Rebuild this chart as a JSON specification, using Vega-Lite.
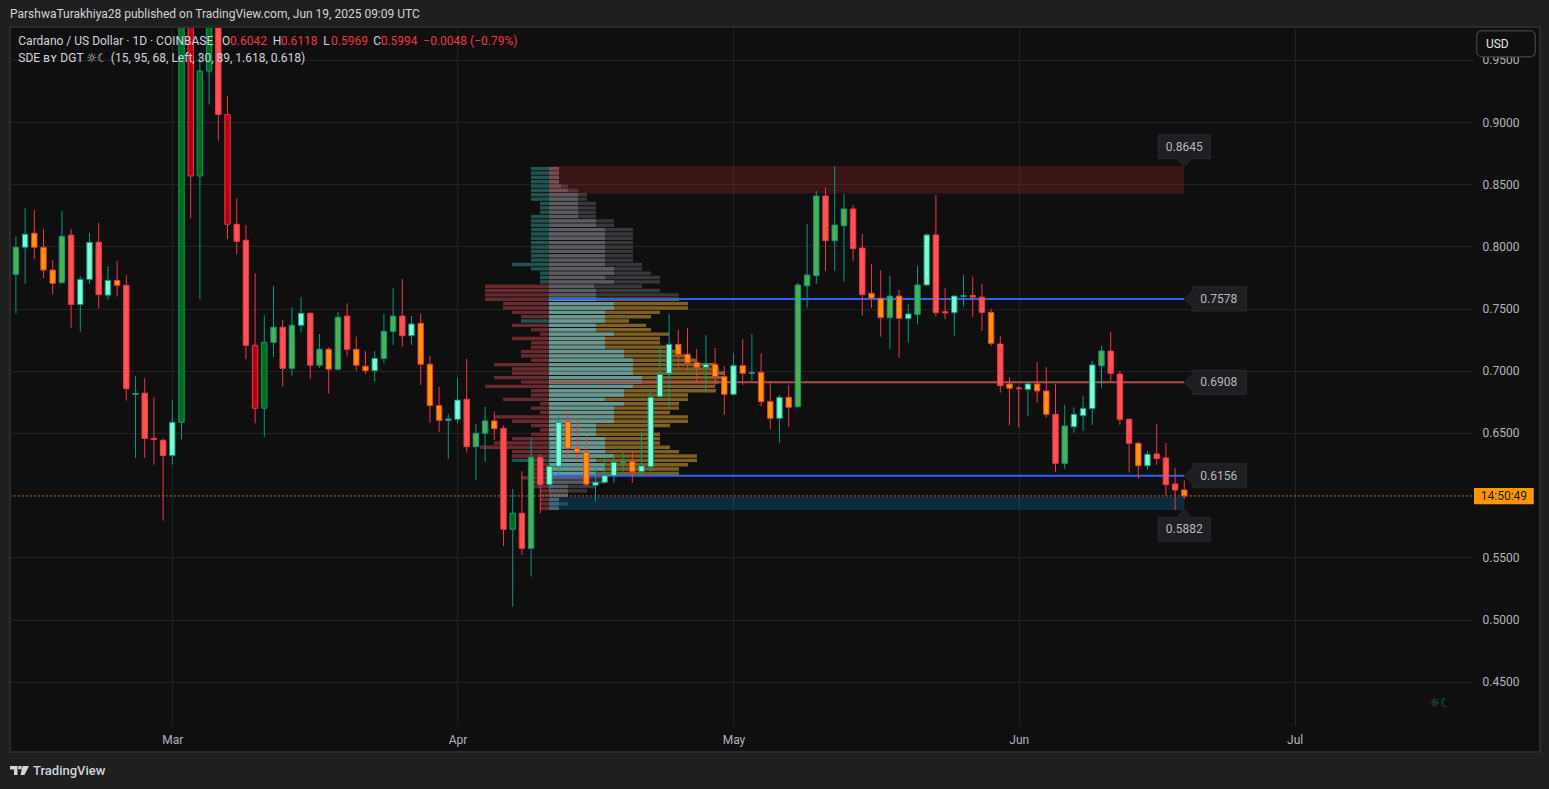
{
"$schema": "https://vega.github.io/schema/vega-lite/v6.json",
"width": 1462, "height": 698,
"autosize": {"type": "none"},
"padding": {"left": 10, "top": 27, "right": 77, "bottom": 64},
"background": "#0f0f0f",
"config": {"view": {"stroke": null}, "font": "Roboto, 'DejaVu Sans', sans-serif", "text": {"font": "Roboto, 'DejaVu Sans', sans-serif"}, "scale": {"continuousPadding": 0}},
"datasets": {
"candles": [
{"t":"2025-02-12","o":0.7776,"h":0.808,"l":0.746,"c":0.7993,"k":"g"},
{"t":"2025-02-13","o":0.7993,"h":0.8306,"l":0.770,"c":0.8098,"k":"m"},
{"t":"2025-02-14","o":0.8106,"h":0.8293,"l":0.790,"c":0.7993,"k":"o"},
{"t":"2025-02-15","o":0.7993,"h":0.814,"l":0.7746,"c":0.781,"k":"o"},
{"t":"2025-02-16","o":0.781,"h":0.789,"l":0.7617,"c":0.7703,"k":"o"},
{"t":"2025-02-17","o":0.7708,"h":0.8285,"l":0.770,"c":0.8081,"k":"g"},
{"t":"2025-02-18","o":0.809,"h":0.814,"l":0.7347,"c":0.7532,"k":"r"},
{"t":"2025-02-19","o":0.7532,"h":0.776,"l":0.7315,"c":0.7735,"k":"m"},
{"t":"2025-02-20","o":0.7735,"h":0.8108,"l":0.7698,"c":0.8033,"k":"m"},
{"t":"2025-02-21","o":0.8033,"h":0.8188,"l":0.75,"c":0.7612,"k":"r"},
{"t":"2025-02-22","o":0.7608,"h":0.7842,"l":0.7572,"c":0.7727,"k":"m"},
{"t":"2025-02-23","o":0.7727,"h":0.7883,"l":0.7596,"c":0.7687,"k":"o"},
{"t":"2025-02-24","o":0.7687,"h":0.7768,"l":0.676,"c":0.6856,"k":"r"},
{"t":"2025-02-25","o":0.681,"h":0.6958,"l":0.630,"c":0.6818,"k":"m"},
{"t":"2025-02-26","o":0.682,"h":0.694,"l":0.630,"c":0.6457,"k":"r"},
{"t":"2025-02-27","o":0.6457,"h":0.679,"l":0.6245,"c":0.6447,"k":"r"},
{"t":"2025-02-28","o":0.6441,"h":0.6455,"l":0.5795,"c":0.6318,"k":"r"},
{"t":"2025-03-01","o":0.6318,"h":0.6765,"l":0.6245,"c":0.6586,"k":"m"},
{"t":"2025-03-02","o":0.6586,"h":1.02,"l":0.645,"c":1.00,"k":"dg"},
{"t":"2025-03-03","o":1.00,"h":1.03,"l":0.8224,"c":0.8566,"k":"dr"},
{"t":"2025-03-04","o":0.8566,"h":0.956,"l":0.7575,"c":0.941,"k":"dg"},
{"t":"2025-03-05","o":0.941,"h":1.0,"l":0.9139,"c":0.985,"k":"dg"},
{"t":"2025-03-06","o":0.982,"h":0.995,"l":0.885,"c":0.906,"k":"r"},
{"t":"2025-03-07","o":0.906,"h":0.921,"l":0.806,"c":0.8178,"k":"dr"},
{"t":"2025-03-08","o":0.8178,"h":0.8387,"l":0.7937,"c":0.8041,"k":"r"},
{"t":"2025-03-09","o":0.805,"h":0.817,"l":0.7093,"c":0.7205,"k":"r"},
{"t":"2025-03-10","o":0.7205,"h":0.7784,"l":0.6578,"c":0.6699,"k":"dr"},
{"t":"2025-03-11","o":0.6699,"h":0.7446,"l":0.647,"c":0.7229,"k":"dg"},
{"t":"2025-03-12","o":0.7229,"h":0.7682,"l":0.7114,"c":0.735,"k":"g"},
{"t":"2025-03-13","o":0.735,"h":0.7408,"l":0.6872,"c":0.702,"k":"r"},
{"t":"2025-03-14","o":0.702,"h":0.751,"l":0.696,"c":0.7366,"k":"g"},
{"t":"2025-03-15","o":0.7366,"h":0.7593,"l":0.7307,"c":0.7462,"k":"m"},
{"t":"2025-03-16","o":0.7462,"h":0.747,"l":0.6937,"c":0.7045,"k":"r"},
{"t":"2025-03-17","o":0.7045,"h":0.7296,"l":0.7025,"c":0.7173,"k":"g"},
{"t":"2025-03-18","o":0.7173,"h":0.719,"l":0.6817,"c":0.7013,"k":"o"},
{"t":"2025-03-19","o":0.7013,"h":0.7473,"l":0.7005,"c":0.743,"k":"g"},
{"t":"2025-03-20","o":0.744,"h":0.7543,"l":0.7114,"c":0.7173,"k":"r"},
{"t":"2025-03-21","o":0.7173,"h":0.7275,"l":0.7001,"c":0.7045,"k":"o"},
{"t":"2025-03-22","o":0.7037,"h":0.7159,"l":0.6972,"c":0.7001,"k":"o"},
{"t":"2025-03-23","o":0.7001,"h":0.7159,"l":0.6913,"c":0.710,"k":"m"},
{"t":"2025-03-24","o":0.71,"h":0.7457,"l":0.706,"c":0.7317,"k":"g"},
{"t":"2025-03-25","o":0.7317,"h":0.7663,"l":0.7207,"c":0.744,"k":"g"},
{"t":"2025-03-26","o":0.744,"h":0.7738,"l":0.7194,"c":0.7282,"k":"r"},
{"t":"2025-03-27","o":0.7282,"h":0.744,"l":0.7207,"c":0.7376,"k":"m"},
{"t":"2025-03-28","o":0.7382,"h":0.7457,"l":0.6886,"c":0.7053,"k":"o"},
{"t":"2025-03-29","o":0.7053,"h":0.7119,"l":0.6583,"c":0.672,"k":"o"},
{"t":"2025-03-30","o":0.672,"h":0.6872,"l":0.6508,"c":0.6602,"k":"o"},
{"t":"2025-03-31","o":0.6602,"h":0.6653,"l":0.6291,"c":0.6612,"k":"m"},
{"t":"2025-04-01","o":0.661,"h":0.6945,"l":0.6578,"c":0.6765,"k":"m"},
{"t":"2025-04-02","o":0.6771,"h":0.7095,"l":0.6342,"c":0.639,"k":"r"},
{"t":"2025-04-03","o":0.639,"h":0.6572,"l":0.6122,"c":0.6498,"k":"g"},
{"t":"2025-04-04","o":0.6498,"h":0.6712,"l":0.6269,"c":0.6597,"k":"g"},
{"t":"2025-04-05","o":0.6597,"h":0.6671,"l":0.6444,"c":0.6535,"k":"o"},
{"t":"2025-04-06","o":0.6538,"h":0.656,"l":0.5592,"c":0.5726,"k":"r"},
{"t":"2025-04-07","o":0.5726,"h":0.605,"l":0.5104,"c":0.5855,"k":"dg"},
{"t":"2025-04-08","o":0.5855,"h":0.6195,"l":0.5519,"c":0.5573,"k":"r"},
{"t":"2025-04-09","o":0.5573,"h":0.6457,"l":0.5345,"c":0.6305,"k":"g"},
{"t":"2025-04-10","o":0.6305,"h":0.6331,"l":0.5855,"c":0.6085,"k":"r"},
{"t":"2025-04-11","o":0.6085,"h":0.6444,"l":0.6042,"c":0.6232,"k":"m"},
{"t":"2025-04-12","o":0.6232,"h":0.6663,"l":0.617,"c":0.6586,"k":"m"},
{"t":"2025-04-13","o":0.6591,"h":0.6685,"l":0.6291,"c":0.6377,"k":"o"},
{"t":"2025-04-14","o":0.6377,"h":0.661,"l":0.6277,"c":0.6342,"k":"o"},
{"t":"2025-04-15","o":0.6345,"h":0.6484,"l":0.6069,"c":0.6088,"k":"o"},
{"t":"2025-04-16","o":0.608,"h":0.6237,"l":0.5948,"c":0.6104,"k":"m"},
{"t":"2025-04-17","o":0.6104,"h":0.6297,"l":0.6095,"c":0.6157,"k":"m"},
{"t":"2025-04-18","o":0.6157,"h":0.6315,"l":0.61,"c":0.6264,"k":"m"},
{"t":"2025-04-19","o":0.6264,"h":0.635,"l":0.6189,"c":0.6267,"k":"m"},
{"t":"2025-04-20","o":0.6269,"h":0.635,"l":0.61,"c":0.6189,"k":"o"},
{"t":"2025-04-21","o":0.6189,"h":0.651,"l":0.6162,"c":0.6235,"k":"m"},
{"t":"2025-04-22","o":0.6229,"h":0.6846,"l":0.6189,"c":0.6787,"k":"m"},
{"t":"2025-04-23","o":0.6792,"h":0.7189,"l":0.678,"c":0.6972,"k":"m"},
{"t":"2025-04-24","o":0.698,"h":0.7457,"l":0.6707,"c":0.7213,"k":"m"},
{"t":"2025-04-25","o":0.7213,"h":0.7328,"l":0.702,"c":0.7133,"k":"o"},
{"t":"2025-04-26","o":0.7133,"h":0.7342,"l":0.7001,"c":0.7065,"k":"o"},
{"t":"2025-04-27","o":0.7065,"h":0.7175,"l":0.692,"c":0.7028,"k":"o"},
{"t":"2025-04-28","o":0.7028,"h":0.7288,"l":0.6824,"c":0.7052,"k":"m"},
{"t":"2025-04-29","o":0.7052,"h":0.7181,"l":0.6886,"c":0.6953,"k":"o"},
{"t":"2025-04-30","o":0.6953,"h":0.7039,"l":0.6645,"c":0.6811,"k":"o"},
{"t":"2025-05-01","o":0.6811,"h":0.7141,"l":0.680,"c":0.7041,"k":"m"},
{"t":"2025-05-02","o":0.7041,"h":0.7256,"l":0.6886,"c":0.698,"k":"o"},
{"t":"2025-05-03","o":0.698,"h":0.7296,"l":0.692,"c":0.6986,"k":"m"},
{"t":"2025-05-04","o":0.6988,"h":0.7141,"l":0.6717,"c":0.6752,"k":"o"},
{"t":"2025-05-05","o":0.6752,"h":0.6918,"l":0.6532,"c":0.6618,"k":"o"},
{"t":"2025-05-06","o":0.6618,"h":0.6805,"l":0.6422,"c":0.6787,"k":"m"},
{"t":"2025-05-07","o":0.6787,"h":0.6886,"l":0.6551,"c":0.6707,"k":"o"},
{"t":"2025-05-08","o":0.6712,"h":0.7708,"l":0.6696,"c":0.769,"k":"g"},
{"t":"2025-05-09","o":0.7684,"h":0.818,"l":0.7507,"c":0.777,"k":"g"},
{"t":"2025-05-10","o":0.7765,"h":0.8445,"l":0.7698,"c":0.8405,"k":"g"},
{"t":"2025-05-11","o":0.8405,"h":0.8472,"l":0.7805,"c":0.8046,"k":"r"},
{"t":"2025-05-12","o":0.8046,"h":0.8646,"l":0.7805,"c":0.8172,"k":"g"},
{"t":"2025-05-13","o":0.8166,"h":0.8421,"l":0.7716,"c":0.8301,"k":"g"},
{"t":"2025-05-14","o":0.8301,"h":0.8333,"l":0.7885,"c":0.7982,"k":"r"},
{"t":"2025-05-15","o":0.7987,"h":0.81,"l":0.7443,"c":0.7612,"k":"r"},
{"t":"2025-05-16","o":0.7623,"h":0.7859,"l":0.7507,"c":0.7583,"k":"o"},
{"t":"2025-05-17","o":0.7583,"h":0.781,"l":0.7274,"c":0.7427,"k":"o"},
{"t":"2025-05-18","o":0.7427,"h":0.7762,"l":0.7175,"c":0.7601,"k":"g"},
{"t":"2025-05-19","o":0.7601,"h":0.765,"l":0.7105,"c":0.7422,"k":"o"},
{"t":"2025-05-20","o":0.7419,"h":0.7537,"l":0.7226,"c":0.7457,"k":"m"},
{"t":"2025-05-21","o":0.7454,"h":0.7842,"l":0.7374,"c":0.769,"k":"g"},
{"t":"2025-05-22","o":0.769,"h":0.8105,"l":0.768,"c":0.8092,"k":"m"},
{"t":"2025-05-23","o":0.8092,"h":0.8413,"l":0.7435,"c":0.7467,"k":"r"},
{"t":"2025-05-24","o":0.7475,"h":0.7668,"l":0.7414,"c":0.7465,"k":"r"},
{"t":"2025-05-25","o":0.7467,"h":0.7605,"l":0.7282,"c":0.7601,"k":"m"},
{"t":"2025-05-26","o":0.7598,"h":0.777,"l":0.7516,"c":0.7604,"k":"m"},
{"t":"2025-05-27","o":0.7605,"h":0.7757,"l":0.7435,"c":0.7592,"k":"r"},
{"t":"2025-05-28","o":0.7592,"h":0.770,"l":0.7323,"c":0.747,"k":"r"},
{"t":"2025-05-29","o":0.747,"h":0.75,"l":0.72,"c":0.7221,"k":"o"},
{"t":"2025-05-30","o":0.7215,"h":0.728,"l":0.6824,"c":0.688,"k":"r"},
{"t":"2025-05-31","o":0.6894,"h":0.6948,"l":0.6564,"c":0.6859,"k":"o"},
{"t":"2025-06-01","o":0.6862,"h":0.6878,"l":0.6543,"c":0.6856,"k":"r"},
{"t":"2025-06-02","o":0.6851,"h":0.6918,"l":0.6637,"c":0.6894,"k":"m"},
{"t":"2025-06-03","o":0.6894,"h":0.7071,"l":0.6744,"c":0.6838,"k":"o"},
{"t":"2025-06-04","o":0.6838,"h":0.703,"l":0.6623,"c":0.665,"k":"o"},
{"t":"2025-06-05","o":0.665,"h":0.6894,"l":0.6189,"c":0.6256,"k":"r"},
{"t":"2025-06-06","o":0.6256,"h":0.6725,"l":0.6211,"c":0.6556,"k":"g"},
{"t":"2025-06-07","o":0.655,"h":0.6707,"l":0.6503,"c":0.665,"k":"m"},
{"t":"2025-06-08","o":0.6639,"h":0.6797,"l":0.6519,"c":0.6698,"k":"m"},
{"t":"2025-06-09","o":0.6696,"h":0.7079,"l":0.6564,"c":0.7047,"k":"m"},
{"t":"2025-06-10","o":0.7041,"h":0.72,"l":0.6864,"c":0.7159,"k":"g"},
{"t":"2025-06-11","o":0.7159,"h":0.7312,"l":0.6912,"c":0.698,"k":"r"},
{"t":"2025-06-12","o":0.6974,"h":0.6998,"l":0.6564,"c":0.661,"k":"r"},
{"t":"2025-06-13","o":0.661,"h":0.6615,"l":0.6181,"c":0.6417,"k":"r"},
{"t":"2025-06-14","o":0.6417,"h":0.643,"l":0.6133,"c":0.6237,"k":"o"},
{"t":"2025-06-15","o":0.6237,"h":0.6355,"l":0.6203,"c":0.6329,"k":"m"},
{"t":"2025-06-16","o":0.6331,"h":0.6572,"l":0.6243,"c":0.6294,"k":"r"},
{"t":"2025-06-17","o":0.6299,"h":0.6417,"l":0.5994,"c":0.6085,"k":"r"},
{"t":"2025-06-18","o":0.609,"h":0.6219,"l":0.5881,"c":0.6042,"k":"r"},
{"t":"2025-06-19","o":0.6042,"h":0.6118,"l":0.5969,"c":0.5994,"k":"o"}
],
"vp": [
{"p":0.8625,"L":-18,"lk":"t","a":10,"b":10},
{"p":0.8590,"L":-18,"lk":"t","a":10,"b":10},
{"p":0.8555,"L":-18,"lk":"t","a":10,"b":10},
{"p":0.8520,"L":-18,"lk":"t","a":10,"b":10},
{"p":0.8485,"L":-18,"lk":"t","a":12,"b":19},
{"p":0.8450,"L":-18,"lk":"t","a":19,"b":29},
{"p":0.8415,"L":-18,"lk":"t","a":29,"b":38},
{"p":0.8380,"L":-18,"lk":"t","a":29,"b":38},
{"p":0.8345,"L":-9,"lk":"t","a":29,"b":47},
{"p":0.8310,"L":-9,"lk":"t","a":29,"b":47},
{"p":0.8275,"L":-9,"lk":"t","a":29,"b":47},
{"p":0.8240,"L":-18,"lk":"t","a":29,"b":47},
{"p":0.8205,"L":-18,"lk":"t","a":47,"b":65},
{"p":0.8170,"L":-18,"lk":"t","a":47,"b":65},
{"p":0.8135,"L":-18,"lk":"t","a":56,"b":84},
{"p":0.8100,"L":-18,"lk":"t","a":56,"b":84},
{"p":0.8065,"L":-18,"lk":"t","a":56,"b":84},
{"p":0.8030,"L":-18,"lk":"t","a":56,"b":84},
{"p":0.7995,"L":-18,"lk":"t","a":56,"b":84},
{"p":0.7960,"L":-18,"lk":"t","a":56,"b":84},
{"p":0.7925,"L":-18,"lk":"t","a":56,"b":84},
{"p":0.7890,"L":-18,"lk":"t","a":56,"b":84},
{"p":0.7855,"L":-37,"lk":"t","a":56,"b":93},
{"p":0.7820,"L":-18,"lk":"t","a":65,"b":93},
{"p":0.7785,"L":-9,"lk":"t","a":65,"b":102},
{"p":0.7750,"L":-9,"lk":"t","a":56,"b":111},
{"p":0.7715,"L":-9,"lk":"t","a":65,"b":111},
{"p":0.7680,"L":-64,"lk":"r","a":45,"b":93},
{"p":0.7645,"L":-64,"lk":"r","a":47,"b":111},
{"p":0.7610,"L":-64,"lk":"r","a":47,"b":130},
{"p":0.7575,"L":-64,"lk":"r","a":47,"b":130},
{"p":0.7540,"L":-46,"lk":"r","a":65,"b":139},
{"p":0.7505,"L":-46,"lk":"r","a":65,"b":139},
{"p":0.7470,"L":-37,"lk":"r","a":56,"b":111},
{"p":0.7435,"L":-28,"lk":"r","a":56,"b":102},
{"p":0.7400,"L":-28,"lk":"t","a":56,"b":80},
{"p":0.7365,"L":-37,"lk":"r","a":47,"b":97},
{"p":0.7330,"L":-18,"lk":"r","a":47,"b":102},
{"p":0.7295,"L":-9,"lk":"r","a":65,"b":120},
{"p":0.7260,"L":-37,"lk":"r","a":56,"b":111},
{"p":0.7225,"L":-18,"lk":"r","a":56,"b":111},
{"p":0.7190,"L":-18,"lk":"r","a":56,"b":120},
{"p":0.7155,"L":-28,"lk":"r","a":75,"b":130},
{"p":0.7120,"L":-28,"lk":"r","a":75,"b":139},
{"p":0.7085,"L":-18,"lk":"r","a":84,"b":148},
{"p":0.7050,"L":-55,"lk":"r","a":84,"b":166},
{"p":0.7015,"L":-37,"lk":"r","a":84,"b":170},
{"p":0.6980,"L":-37,"lk":"r","a":84,"b":176},
{"p":0.6945,"L":-55,"lk":"r","a":93,"b":176},
{"p":0.6910,"L":-28,"lk":"r","a":93,"b":170},
{"p":0.6875,"L":-64,"lk":"r","a":84,"b":166},
{"p":0.6840,"L":-18,"lk":"r","a":75,"b":167},
{"p":0.6805,"L":-18,"lk":"r","a":75,"b":139},
{"p":0.6770,"L":-46,"lk":"r","a":56,"b":139},
{"p":0.6735,"L":-9,"lk":"r","a":75,"b":130},
{"p":0.6700,"L":-18,"lk":"r","a":65,"b":130},
{"p":0.6665,"L":-9,"lk":"r","a":65,"b":121},
{"p":0.6630,"L":-55,"lk":"r","a":65,"b":139},
{"p":0.6595,"L":-37,"lk":"r","a":65,"b":139},
{"p":0.6560,"L":-18,"lk":"r","a":47,"b":121},
{"p":0.6525,"L":-9,"lk":"r","a":47,"b":102},
{"p":0.6490,"L":-18,"lk":"r","a":47,"b":111},
{"p":0.6455,"L":-37,"lk":"r","a":56,"b":111},
{"p":0.6420,"L":-55,"lk":"r","a":56,"b":111},
{"p":0.6385,"L":-69,"lk":"r","a":56,"b":121},
{"p":0.6350,"L":-37,"lk":"r","a":56,"b":130},
{"p":0.6315,"L":-37,"lk":"r","a":65,"b":148},
{"p":0.6280,"L":-37,"lk":"t","a":47,"b":148},
{"p":0.6245,"L":-18,"lk":"r","a":56,"b":139},
{"p":0.6210,"L":-18,"lk":"r","a":56,"b":130},
{"p":0.6175,"L":-18,"lk":"r","a":47,"b":130},
{"p":0.6140,"L":-28,"lk":"r","a":38,"b":56},
{"p":0.6105,"L":-18,"lk":"r","a":38,"b":56},
{"p":0.6070,"L":-18,"lk":"r","a":19,"b":47},
{"p":0.6035,"L":-9,"lk":"r","a":19,"b":38},
{"p":0.6000,"L":-9,"lk":"r","a":19,"b":19},
{"p":0.5965,"L":-9,"lk":"r","a":10,"b":10},
{"p":0.5930,"L":-9,"lk":"r","a":10,"b":19},
{"p":0.5895,"L":-9,"lk":"r","a":10,"b":10}
],
"levels": [
{"p":0.8645,"k":"top","d0":"2025-04-11","d1":"2025-06-19"},
{"p":0.7578,"k":"b","d0":"2025-04-11","d1":"2025-06-19"},
{"p":0.6908,"k":"r","d0":"2025-04-11","d1":"2025-06-19"},
{"p":0.6156,"k":"b","d0":"2025-04-11","d1":"2025-06-19"},
{"p":0.5882,"k":"bot","d0":"2025-04-11","d1":"2025-06-19"}
],
"zones": [
{"lo":0.8423,"hi":0.8645,"k":"s","d0":"2025-04-11","d1":"2025-06-19"},
{"lo":0.5882,"hi":0.5988,"k":"d","d0":"2025-04-11","d1":"2025-06-19"}
],
"frame": [
{"k":"outer","t0":"2025-02-08T02:21:00Z","t1":"2025-07-30T22:10:00Z","y0":1.00048,"y1":0.36945},
{"k":"pane","t0":"2025-02-11T08:37:00Z","t1":"2025-07-27T15:55:00Z","y0":0.97637,"y1":0.39357}
],
"boxes": [
{"k":"usd","t0":"2025-07-20T18:47:00Z","t1":"2025-07-27T03:36:00Z","y0":0.97339,"y1":0.95249},
{"k":"cd","t0":"2025-07-20T11:45:00Z","t1":"2025-07-26T23:32:00Z","y0":0.6058,"y1":0.59269}
],
"last": [
{"p":0.5994,"t0":"2025-02-11T08:37:00Z","t1":"2025-07-20T06:31:00Z"}
],
"texts": [
{"t":"2025-02-11T08:37:00Z","p":0.98682,"s":"ParshwaTurakhiya28 published on TradingView.com, Jun 19, 2025 09:09 UTC","k":"w"},
{"t":"2025-02-12T06:16:00Z","p":0.96511,"s":"Cardano / US Dollar · 1D · COINBASE","k":"w"},
{"t":"2025-03-06T09:39:00Z","p":0.96511,"s":"O","k":"w"},
{"t":"2025-03-07T06:32:00Z","p":0.96511,"s":"0.6042","k":"r"},
{"t":"2025-03-11T21:55:00Z","p":0.96511,"s":"H","k":"w"},
{"t":"2025-03-12T18:47:00Z","p":0.96511,"s":"0.6118","k":"r"},
{"t":"2025-03-17T09:55:00Z","p":0.96511,"s":"L","k":"w"},
{"t":"2025-03-18T06:00:00Z","p":0.96511,"s":"0.5969","k":"r"},
{"t":"2025-03-22T20:21:00Z","p":0.96511,"s":"C","k":"w"},
{"t":"2025-03-23T15:39:00Z","p":0.96511,"s":"0.5994","k":"r"},
{"t":"2025-03-28T06:47:00Z","p":0.96511,"s":"−0.0048 (−0.79%)","k":"r"},
{"t":"2025-02-12T06:16:00Z","p":0.95145,"s":"SDE ʙʏ DGT ☼☾ (15, 95, 68, Left, 30, 89, 1.618, 0.618)","k":"w"},
{"t":"2025-07-21T18:45:00Z","p":0.96294,"s":"USD","k":"u"}
],
"misc": [
{"k":"foot","t":"2025-02-13T20:38:00Z","p":0.3783,"s":"TradingView"},
{"k":"logo","t":"2025-02-12T09:23:00Z","p":0.3787,"s":""},
{"k":"icon","t":"2025-07-16T19:00:00Z","p":0.43296,"s":"☼☾"},
{"k":"cd","t":"2025-07-23T17:45:00Z","p":0.5992,"s":"14:50:49"}
]
},
"layer": [
{"data": {"name": "vp"},
 "mark": {"type": "bar", "orient": "horizontal", "size": 3.4},
 "encoding": {
  "y": {"field": "p", "type": "quantitative", "title": null, "scale": {"domain": [0.41527, 0.97637], "nice": false, "zero": false, "padding": 0},
        "axis": {"orient": "right", "values": [0.45, 0.5, 0.55, 0.65, 0.7, 0.75, 0.8, 0.85, 0.9, 0.95], "format": ".4f",
                 "grid": true, "gridColor": "#232323", "gridWidth": 1, "ticks": false, "domain": false,
                 "labelPadding": 10, "labelColor": "#b2b5be", "labelFontSize": 12, "labelFont": "Roboto", "labelOverlap": false, "labelFlush": false, "title": null}},
  "x": {"field": "L", "type": "quantitative", "axis": null, "title": null, "scale": {"domain": [-539, 923], "nice": false, "zero": false, "padding": 0}},
  "x2": {"datum": 0},
  "color": {"field": "lk", "type": "nominal", "legend": null, "scale": {"domain": ["r", "t"], "range": ["#682a2e", "#1f5551"]}}
 }},
{"data": {"name": "vp"},
 "mark": {"type": "bar", "orient": "horizontal", "size": 3.4},
 "encoding": {
  "y": {"field": "p", "type": "quantitative", "title": null, "scale": {"domain": [0.41527, 0.97637], "nice": false, "zero": false, "padding": 0}},
  "x": {"field": "b", "type": "quantitative", "axis": null, "title": null, "scale": {"domain": [-539, 923], "nice": false, "zero": false, "padding": 0}},
  "x2": {"datum": 0},
  "color": {"condition": {"test": "datum.p < 0.7578 && datum.p > 0.6156", "value": "#7f6020"}, "value": "#38383c"}
 }},
{"data": {"name": "vp"},
 "mark": {"type": "bar", "orient": "horizontal", "size": 3.4},
 "encoding": {
  "y": {"field": "p", "type": "quantitative", "title": null, "scale": {"domain": [0.41527, 0.97637], "nice": false, "zero": false, "padding": 0}},
  "x": {"field": "a", "type": "quantitative", "axis": null, "title": null, "scale": {"domain": [-539, 923], "nice": false, "zero": false, "padding": 0}},
  "x2": {"datum": 0},
  "color": {"condition": {"test": "datum.p < 0.7578 && datum.p > 0.6156", "value": "#669996"}, "value": "#5c5c62"}
 }},
{"data": {"name": "zones"},
 "mark": {"type": "rect", "fillOpacity": 0.25},
 "encoding": {
  "x": {"field": "d0", "type": "temporal", "title": null,
        "scale": {"type": "utc", "nice": false, "padding": 0, "domain": [{"year": 2025, "month": 2, "date": 11, "hours": 8, "minutes": 37, "utc": true}, {"year": 2025, "month": 7, "date": 20, "hours": 6, "minutes": 31, "utc": true}]},
        "axis": {"orient": "bottom", "values": [{"year": 2025, "month": 3, "date": 1, "utc": true}, {"year": 2025, "month": 4, "date": 1, "utc": true}, {"year": 2025, "month": 5, "date": 1, "utc": true}, {"year": 2025, "month": 6, "date": 1, "utc": true}, {"year": 2025, "month": 7, "date": 1, "utc": true}],
                 "labelExpr": "utcFormat(datum.value, '%b')", "grid": true, "gridColor": "#232323", "gridWidth": 1, "ticks": false, "domain": false,
                 "labelPadding": 9, "labelColor": "#b2b5be", "labelFontSize": 12, "labelFont": "Roboto", "labelFlush": false, "title": null}},
  "x2": {"field": "d1"},
  "y": {"field": "lo", "type": "quantitative", "title": null, "scale": {"domain": [0.41527, 0.97637], "nice": false, "zero": false, "padding": 0}},
  "y2": {"field": "hi"},
  "fill": {"field": "k", "type": "nominal", "legend": null, "scale": {"domain": ["s", "d"], "range": ["#bf232b", "#0b7bcb"]}}
 }},
{"data": {"name": "levels"},
 "transform": [{"filter": "datum.k == 'b' || datum.k == 'r'"}],
 "mark": {"type": "rule", "strokeWidth": 2},
 "encoding": {
  "x": {"field": "d0", "type": "temporal", "axis": null, "title": null, "scale": {"type": "utc", "nice": false, "padding": 0, "domain": [{"year": 2025, "month": 2, "date": 11, "hours": 8, "minutes": 37, "utc": true}, {"year": 2025, "month": 7, "date": 20, "hours": 6, "minutes": 31, "utc": true}]}},
  "x2": {"field": "d1"},
  "y": {"field": "p", "type": "quantitative", "title": null, "scale": {"domain": [0.41527, 0.97637], "nice": false, "zero": false, "padding": 0}},
  "color": {"field": "k", "type": "nominal", "legend": null, "scale": {"domain": ["b", "r"], "range": ["#2962ff", "#b5484d"]}}
 }},
{"data": {"name": "last"},
 "mark": {"type": "rule", "strokeWidth": 1, "strokeDash": [1.5, 2.5], "color": "#ff9800"},
 "encoding": {
  "x": {"field": "t0", "type": "temporal", "axis": null, "title": null, "scale": {"type": "utc", "nice": false, "padding": 0, "domain": [{"year": 2025, "month": 2, "date": 11, "hours": 8, "minutes": 37, "utc": true}, {"year": 2025, "month": 7, "date": 20, "hours": 6, "minutes": 31, "utc": true}]}},
  "x2": {"field": "t1"},
  "y": {"field": "p", "type": "quantitative", "title": null, "scale": {"domain": [0.41527, 0.97637], "nice": false, "zero": false, "padding": 0}}
 }},
{"data": {"name": "candles"},
 "mark": {"type": "rule", "strokeWidth": 1, "clip": true},
 "encoding": {
  "x": {"field": "t", "type": "temporal", "axis": null, "title": null, "scale": {"type": "utc", "nice": false, "padding": 0, "domain": [{"year": 2025, "month": 2, "date": 11, "hours": 8, "minutes": 37, "utc": true}, {"year": 2025, "month": 7, "date": 20, "hours": 6, "minutes": 31, "utc": true}]}},
  "y": {"field": "l", "type": "quantitative", "title": null, "scale": {"domain": [0.41527, 0.97637], "nice": false, "zero": false, "padding": 0}},
  "y2": {"field": "h"},
  "color": {"field": "k", "type": "nominal", "legend": null, "scale": {"domain": ["g", "m", "dg", "r", "dr", "o"], "range": ["#089981", "#089981", "#089981", "#f23645", "#f23645", "#f23645"]}}
 }},
{"data": {"name": "candles"},
 "mark": {"type": "bar", "size": 5.4, "strokeWidth": 1, "clip": true, "orient": "vertical"},
 "encoding": {
  "x": {"field": "t", "type": "temporal", "axis": null, "title": null, "scale": {"type": "utc", "nice": false, "padding": 0, "domain": [{"year": 2025, "month": 2, "date": 11, "hours": 8, "minutes": 37, "utc": true}, {"year": 2025, "month": 7, "date": 20, "hours": 6, "minutes": 31, "utc": true}]}},
  "y": {"field": "o", "type": "quantitative", "title": null, "scale": {"domain": [0.41527, 0.97637], "nice": false, "zero": false, "padding": 0}},
  "y2": {"field": "c"},
  "fill": {"field": "k", "type": "nominal", "legend": null, "scale": {"domain": ["g", "m", "dg", "r", "dr", "o"], "range": ["#4caf50", "#7fffd4", "#006e0f", "#ff5252", "#b2000f", "#ff9800"]}},
  "stroke": {"field": "k", "type": "nominal", "legend": null, "scale": {"domain": ["g", "m", "dg", "r", "dr", "o"], "range": ["#089981", "#089981", "#089981", "#f23645", "#f23645", "#f23645"]}}
 }},
{"data": {"name": "levels"},
 "transform": [{"filter": "datum.k == 'b' || datum.k == 'r'"}],
 "mark": {"type": "point", "shape": "M0,0 L0.125,-0.117 L0.125,-0.1875 L0.969,-0.1875 L0.969,0.1875 L0.125,0.1875 L0.125,0.117 Z", "size": 16384, "filled": true, "fill": "#1e1f22", "stroke": "#2a2b30", "strokeWidth": 1, "opacity": 1},
 "encoding": {
  "x": {"field": "d1", "type": "temporal", "axis": null, "title": null, "scale": {"type": "utc", "nice": false, "padding": 0, "domain": [{"year": 2025, "month": 2, "date": 11, "hours": 8, "minutes": 37, "utc": true}, {"year": 2025, "month": 7, "date": 20, "hours": 6, "minutes": 31, "utc": true}]}},
  "y": {"field": "p", "type": "quantitative", "title": null, "scale": {"domain": [0.41527, 0.97637], "nice": false, "zero": false, "padding": 0}}
 }},
{"data": {"name": "levels"},
 "transform": [{"filter": "datum.k == 'top'"}],
 "mark": {"type": "point", "shape": "M0,0 L-0.234,-0.2375 L-0.8125,-0.2375 L-0.8125,-0.978 L0.8125,-0.978 L0.8125,-0.2375 L0.234,-0.2375 Z", "size": 4096, "filled": true, "fill": "#1e1f22", "stroke": "#2a2b30", "strokeWidth": 1, "opacity": 1},
 "encoding": {
  "x": {"field": "d1", "type": "temporal", "axis": null, "title": null, "scale": {"type": "utc", "nice": false, "padding": 0, "domain": [{"year": 2025, "month": 2, "date": 11, "hours": 8, "minutes": 37, "utc": true}, {"year": 2025, "month": 7, "date": 20, "hours": 6, "minutes": 31, "utc": true}]}},
  "y": {"field": "p", "type": "quantitative", "title": null, "scale": {"domain": [0.41527, 0.97637], "nice": false, "zero": false, "padding": 0}}
 }},
{"data": {"name": "levels"},
 "transform": [{"filter": "datum.k == 'bot'"}],
 "mark": {"type": "point", "shape": "M0,0 L-0.234,0.2375 L-0.8125,0.2375 L-0.8125,0.978 L0.8125,0.978 L0.8125,0.2375 L0.234,0.2375 Z", "size": 4096, "filled": true, "fill": "#1e1f22", "stroke": "#2a2b30", "strokeWidth": 1, "opacity": 1},
 "encoding": {
  "x": {"field": "d1", "type": "temporal", "axis": null, "title": null, "scale": {"type": "utc", "nice": false, "padding": 0, "domain": [{"year": 2025, "month": 2, "date": 11, "hours": 8, "minutes": 37, "utc": true}, {"year": 2025, "month": 7, "date": 20, "hours": 6, "minutes": 31, "utc": true}]}},
  "y": {"field": "p", "type": "quantitative", "title": null, "scale": {"domain": [0.41527, 0.97637], "nice": false, "zero": false, "padding": 0}}
 }},
{"data": {"name": "levels"},
 "transform": [{"filter": "datum.k == 'b' || datum.k == 'r'"}],
 "mark": {"type": "text", "dx": 34.5, "align": "center", "baseline": "middle", "fontSize": 12, "color": "#b8b9bd"},
 "encoding": {
  "x": {"field": "d1", "type": "temporal", "axis": null, "title": null, "scale": {"type": "utc", "nice": false, "padding": 0, "domain": [{"year": 2025, "month": 2, "date": 11, "hours": 8, "minutes": 37, "utc": true}, {"year": 2025, "month": 7, "date": 20, "hours": 6, "minutes": 31, "utc": true}]}},
  "y": {"field": "p", "type": "quantitative", "title": null, "scale": {"domain": [0.41527, 0.97637], "nice": false, "zero": false, "padding": 0}},
  "text": {"field": "p", "format": ".4f"}
 }},
{"data": {"name": "levels"},
 "transform": [{"filter": "datum.k == 'top'"}],
 "mark": {"type": "text", "dy": -19, "align": "center", "baseline": "middle", "fontSize": 12, "color": "#b8b9bd"},
 "encoding": {
  "x": {"field": "d1", "type": "temporal", "axis": null, "title": null, "scale": {"type": "utc", "nice": false, "padding": 0, "domain": [{"year": 2025, "month": 2, "date": 11, "hours": 8, "minutes": 37, "utc": true}, {"year": 2025, "month": 7, "date": 20, "hours": 6, "minutes": 31, "utc": true}]}},
  "y": {"field": "p", "type": "quantitative", "title": null, "scale": {"domain": [0.41527, 0.97637], "nice": false, "zero": false, "padding": 0}},
  "text": {"field": "p", "format": ".4f"}
 }},
{"data": {"name": "levels"},
 "transform": [{"filter": "datum.k == 'bot'"}],
 "mark": {"type": "text", "dy": 19, "align": "center", "baseline": "middle", "fontSize": 12, "color": "#b8b9bd"},
 "encoding": {
  "x": {"field": "d1", "type": "temporal", "axis": null, "title": null, "scale": {"type": "utc", "nice": false, "padding": 0, "domain": [{"year": 2025, "month": 2, "date": 11, "hours": 8, "minutes": 37, "utc": true}, {"year": 2025, "month": 7, "date": 20, "hours": 6, "minutes": 31, "utc": true}]}},
  "y": {"field": "p", "type": "quantitative", "title": null, "scale": {"domain": [0.41527, 0.97637], "nice": false, "zero": false, "padding": 0}},
  "text": {"field": "p", "format": ".4f"}
 }},
{"data": {"name": "frame"},
 "transform": [{"filter": "datum.k == 'outer'"}],
 "mark": {"type": "rect", "fillOpacity": 0, "stroke": "#1f1f1f", "strokeWidth": 60},
 "encoding": {
  "x": {"field": "t0", "type": "temporal", "axis": null, "title": null, "scale": {"type": "utc", "nice": false, "padding": 0, "domain": [{"year": 2025, "month": 2, "date": 11, "hours": 8, "minutes": 37, "utc": true}, {"year": 2025, "month": 7, "date": 20, "hours": 6, "minutes": 31, "utc": true}]}},
  "x2": {"field": "t1"},
  "y": {"field": "y0", "type": "quantitative", "title": null, "scale": {"domain": [0.41527, 0.97637], "nice": false, "zero": false, "padding": 0}},
  "y2": {"field": "y1"}
 }},
{"data": {"name": "frame"},
 "transform": [{"filter": "datum.k == 'pane'"}],
 "mark": {"type": "rect", "fillOpacity": 0, "stroke": "#2b2b2b", "strokeWidth": 2},
 "encoding": {
  "x": {"field": "t0", "type": "temporal", "axis": null, "title": null, "scale": {"type": "utc", "nice": false, "padding": 0, "domain": [{"year": 2025, "month": 2, "date": 11, "hours": 8, "minutes": 37, "utc": true}, {"year": 2025, "month": 7, "date": 20, "hours": 6, "minutes": 31, "utc": true}]}},
  "x2": {"field": "t1"},
  "y": {"field": "y0", "type": "quantitative", "title": null, "scale": {"domain": [0.41527, 0.97637], "nice": false, "zero": false, "padding": 0}},
  "y2": {"field": "y1"}
 }},
{"data": {"name": "boxes"},
 "transform": [{"filter": "datum.k == 'usd'"}],
 "mark": {"type": "rect", "fill": "#0f0f0f", "stroke": "#3a3a3d", "strokeWidth": 1.5, "cornerRadius": 5},
 "encoding": {
  "x": {"field": "t0", "type": "temporal", "axis": null, "title": null, "scale": {"type": "utc", "nice": false, "padding": 0, "domain": [{"year": 2025, "month": 2, "date": 11, "hours": 8, "minutes": 37, "utc": true}, {"year": 2025, "month": 7, "date": 20, "hours": 6, "minutes": 31, "utc": true}]}},
  "x2": {"field": "t1"},
  "y": {"field": "y0", "type": "quantitative", "title": null, "scale": {"domain": [0.41527, 0.97637], "nice": false, "zero": false, "padding": 0}},
  "y2": {"field": "y1"}
 }},
{"data": {"name": "boxes"},
 "transform": [{"filter": "datum.k == 'cd'"}],
 "mark": {"type": "rect", "fill": "#ff9800"},
 "encoding": {
  "x": {"field": "t0", "type": "temporal", "axis": null, "title": null, "scale": {"type": "utc", "nice": false, "padding": 0, "domain": [{"year": 2025, "month": 2, "date": 11, "hours": 8, "minutes": 37, "utc": true}, {"year": 2025, "month": 7, "date": 20, "hours": 6, "minutes": 31, "utc": true}]}},
  "x2": {"field": "t1"},
  "y": {"field": "y0", "type": "quantitative", "title": null, "scale": {"domain": [0.41527, 0.97637], "nice": false, "zero": false, "padding": 0}},
  "y2": {"field": "y1"}
 }},
{"data": {"name": "texts"},
 "mark": {"type": "text", "align": "left", "baseline": "middle", "fontSize": 12},
 "encoding": {
  "x": {"field": "t", "type": "temporal", "axis": null, "title": null, "scale": {"type": "utc", "nice": false, "padding": 0, "domain": [{"year": 2025, "month": 2, "date": 11, "hours": 8, "minutes": 37, "utc": true}, {"year": 2025, "month": 7, "date": 20, "hours": 6, "minutes": 31, "utc": true}]}},
  "y": {"field": "p", "type": "quantitative", "title": null, "scale": {"domain": [0.41527, 0.97637], "nice": false, "zero": false, "padding": 0}},
  "text": {"field": "s"},
  "color": {"field": "k", "type": "nominal", "legend": null, "scale": {"domain": ["w", "r", "u"], "range": ["#d1d4dc", "#f23645", "#e6e6e6"]}}
 }},
{"data": {"name": "misc"},
 "transform": [{"filter": "datum.k == 'foot'"}],
 "mark": {"type": "text", "align": "left", "baseline": "middle", "fontSize": 13, "fontWeight": 500, "color": "#d1d4dc"},
 "encoding": {
  "x": {"field": "t", "type": "temporal", "axis": null, "title": null, "scale": {"type": "utc", "nice": false, "padding": 0, "domain": [{"year": 2025, "month": 2, "date": 11, "hours": 8, "minutes": 37, "utc": true}, {"year": 2025, "month": 7, "date": 20, "hours": 6, "minutes": 31, "utc": true}]}},
  "y": {"field": "p", "type": "quantitative", "title": null, "scale": {"domain": [0.41527, 0.97637], "nice": false, "zero": false, "padding": 0}},
  "text": {"field": "s"}
 }},
{"data": {"name": "misc"},
 "transform": [{"filter": "datum.k == 'logo'"}],
 "mark": {"type": "point", "shape": "M-0.95,-0.45 L-0.2,-0.45 L-0.2,0.45 L-0.55,0.45 L-0.55,-0.1 L-0.95,-0.1 Z M-0.12,-0.45 L0.2,-0.45 L0.2,-0.12 L-0.12,-0.12 Z M0.3,-0.45 L0.95,-0.45 L0.5,0.45 L0.1,0.45 Z", "size": 400, "filled": true, "fill": "#d1d4dc", "strokeWidth": 0, "opacity": 1},
 "encoding": {
  "x": {"field": "t", "type": "temporal", "axis": null, "title": null, "scale": {"type": "utc", "nice": false, "padding": 0, "domain": [{"year": 2025, "month": 2, "date": 11, "hours": 8, "minutes": 37, "utc": true}, {"year": 2025, "month": 7, "date": 20, "hours": 6, "minutes": 31, "utc": true}]}},
  "y": {"field": "p", "type": "quantitative", "title": null, "scale": {"domain": [0.41527, 0.97637], "nice": false, "zero": false, "padding": 0}}
 }},
{"data": {"name": "misc"},
 "transform": [{"filter": "datum.k == 'icon'"}],
 "mark": {"type": "text", "align": "center", "baseline": "middle", "fontSize": 12, "color": "#0f7c6c", "font": "DejaVu Sans"},
 "encoding": {
  "x": {"field": "t", "type": "temporal", "axis": null, "title": null, "scale": {"type": "utc", "nice": false, "padding": 0, "domain": [{"year": 2025, "month": 2, "date": 11, "hours": 8, "minutes": 37, "utc": true}, {"year": 2025, "month": 7, "date": 20, "hours": 6, "minutes": 31, "utc": true}]}},
  "y": {"field": "p", "type": "quantitative", "title": null, "scale": {"domain": [0.41527, 0.97637], "nice": false, "zero": false, "padding": 0}},
  "text": {"field": "s"}
 }},
{"data": {"name": "misc"},
 "transform": [{"filter": "datum.k == 'cd'"}],
 "mark": {"type": "text", "align": "center", "baseline": "middle", "fontSize": 12, "color": "#1a1a1a"},
 "encoding": {
  "x": {"field": "t", "type": "temporal", "axis": null, "title": null, "scale": {"type": "utc", "nice": false, "padding": 0, "domain": [{"year": 2025, "month": 2, "date": 11, "hours": 8, "minutes": 37, "utc": true}, {"year": 2025, "month": 7, "date": 20, "hours": 6, "minutes": 31, "utc": true}]}},
  "y": {"field": "p", "type": "quantitative", "title": null, "scale": {"domain": [0.41527, 0.97637], "nice": false, "zero": false, "padding": 0}},
  "text": {"field": "s"}
 }}
],
"resolve": {"scale": {"x": "independent", "color": "independent", "fill": "independent", "stroke": "independent"}}
}
